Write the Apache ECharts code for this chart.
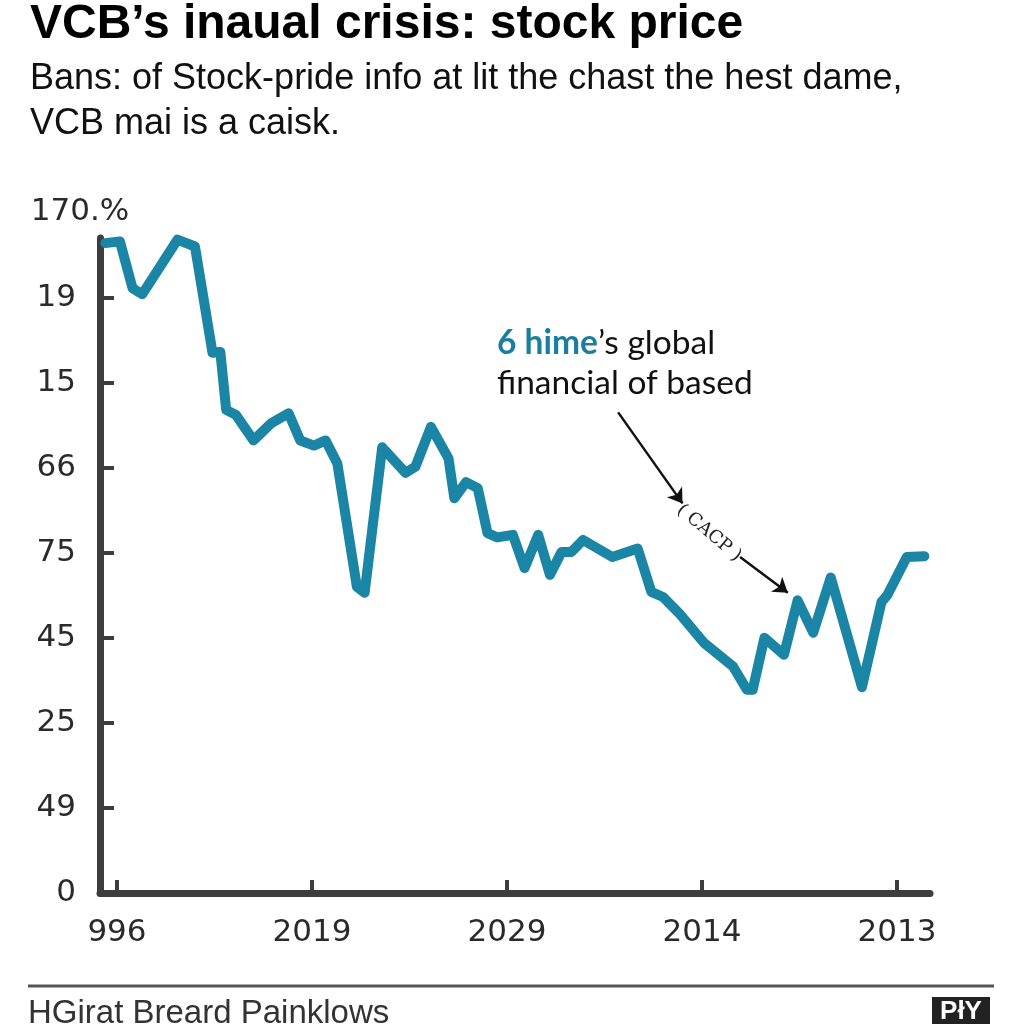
<!DOCTYPE html>
<html>
<head>
<meta charset="utf-8">
<script src="https://cdn.jsdelivr.net/npm/echarts@6/dist/echarts.min.js"></script>
<style>
  html, body { margin: 0; padding: 0; background: #ffffff; }
  #chart { width: 1024px; height: 1024px; }
</style>
</head>
<body>
<div id="chart"></div>
<script>
// ---- data ----
const titleText = "VCB’s inaual crisis: stock price";
const subtitleLines = ["Bans: of Stock-pride info at lit the chast the hest dame,", "VCB mai is a caisk."];
const footerText = "HGirat Breard Painklows";
const logoText = "PłY";

const xTickPos = [0, 10, 20, 30, 40];
const xTickLabels = ["996", "2019", "2029", "2014", "2013"];
const yTickPos = [0, 1, 2, 3, 4, 5, 6, 7];
const yTickLabels = ["0", "49", "25", "45", "75", "66", "15", "19"];
const yAxisTopLabel = "170.%";

const xPos = [-0.6, 0.15, 0.8, 1.3, 3.1, 4.0, 4.9, 5.3, 5.6, 6.1, 7.0, 7.9, 8.8, 9.4, 10.1, 10.7, 11.3, 12.3, 12.7, 13.6, 14.8, 15.3, 16.1, 17.0, 17.3, 17.9, 18.5, 19.0, 19.5, 20.3, 20.9, 21.6, 22.2, 22.8, 23.3, 23.9, 25.4, 26.7, 27.4, 28.0, 28.9, 30.1, 31.6, 32.3, 32.6, 33.2, 34.2, 34.9, 35.7, 36.6, 38.2, 39.2, 39.5, 40.5, 41.4];
const price = [7.64, 7.66, 7.11, 7.04, 7.68, 7.6, 6.35, 6.36, 5.68, 5.62, 5.32, 5.52, 5.64, 5.32, 5.26, 5.32, 5.05, 3.6, 3.53, 5.24, 4.94, 5.01, 5.48, 5.11, 4.64, 4.83, 4.76, 4.23, 4.18, 4.21, 3.82, 4.21, 3.74, 4.01, 4.01, 4.15, 3.95, 4.05, 3.54, 3.48, 3.27, 2.94, 2.66, 2.39, 2.39, 3.0, 2.8, 3.44, 3.06, 3.71, 2.42, 3.42, 3.5, 3.95, 3.96];

const annoBold = "6 hime";
const annoLine1Rest = "’s global";
const annoLine2 = "financial of based";
const annoTag = "( CACP )";
// arrows in data coordinates [x, y]
const arrow1 = [[25.7, 5.65], [29.0, 4.58]];
const arrow2 = [[31.95, 3.95], [34.4, 3.53]];

// ---- chart ----
const seriesData = xPos.map((x, i) => [x, price[i]]);
const axisColor = '#3d3d3d';
const textColor = '#2a2a2a';
const lineColor = '#1a85a4';

const chart = echarts.init(document.getElementById('chart'), null, { renderer: 'canvas' });
chart.setOption({
  animation: false,
  backgroundColor: '#ffffff',
  title: [
    {
      text: titleText, left: 25, top: -4, padding: 5,
      textStyle: { fontFamily: 'Liberation Sans', fontSize: 48, fontWeight: 'bold', color: '#000000' }
    },
    {
      text: subtitleLines.join('\n'), left: 25, top: 52, padding: 5,
      textStyle: { fontFamily: 'Liberation Sans', fontSize: 36, fontWeight: 'normal', color: '#111111', lineHeight: 45 }
    },
    {
      text: footerText, left: 23, top: 992, padding: 5,
      textStyle: { fontFamily: 'Liberation Sans', fontSize: 33, fontWeight: 'normal', color: '#333333', lineHeight: 33 }
    }
  ],
  grid: { left: 100, right: 94, top: 238, bottom: 131, containLabel: false },
  xAxis: {
    type: 'value',
    min: -0.87,
    max: 41.69,
    axisLine: { show: true, onZero: false, lineStyle: { color: axisColor, width: 7, cap: 'round' } },
    axisTick: { show: true, inside: true, length: 13, customValues: xTickPos, lineStyle: { color: axisColor, width: 4 } },
    axisLabel: {
      customValues: xTickPos,
      formatter: (v) => { const i = xTickPos.indexOf(v); return i >= 0 ? xTickLabels[i] : ''; },
      fontFamily: 'DejaVu Sans', fontSize: 31, color: textColor, margin: 24
    },
    splitLine: { show: false }
  },
  yAxis: {
    type: 'value',
    min: 0,
    max: 7.7,
    name: yAxisTopLabel,
    nameLocation: 'end',
    nameGap: 26,
    nameTextStyle: { fontFamily: 'DejaVu Sans', fontSize: 31, color: textColor, align: 'center', verticalAlign: 'middle', padding: [0, 40, 0, 0] },
    axisLine: { show: true, onZero: false, lineStyle: { color: axisColor, width: 7, cap: 'round' } },
    axisTick: { show: true, inside: true, length: 14, customValues: yTickPos.slice(1), lineStyle: { color: axisColor, width: 4 } },
    axisLabel: {
      customValues: yTickPos,
      formatter: (v) => { const i = yTickPos.indexOf(v); return i >= 0 ? yTickLabels[i] : ''; },
      fontFamily: 'DejaVu Sans', fontSize: 31, color: textColor, margin: 24
    },
    splitLine: { show: false }
  },
  series: [
    {
      type: 'line',
      data: seriesData,
      symbol: 'none',
      clip: false,
      lineStyle: { color: lineColor, width: 10, join: 'round', cap: 'round' },
      markLine: {
        silent: true,
        symbol: ['none', 'arrow'],
        symbolSize: 14,
        label: { show: false },
        itemStyle: { color: '#111111' },
        lineStyle: { color: '#111111', width: 2.5, type: 'solid' },
        data: [
          [{ coord: arrow1[0] }, { coord: arrow1[1] }],
          [{ coord: arrow2[0] }, { coord: arrow2[1] }]
        ]
      }
    }
  ],
  graphic: [
    {
      type: 'text', left: 497, top: 326,
      style: {
        text: '{b|' + annoBold + '}{r|' + annoLine1Rest + '}\n{r|' + annoLine2 + '}',
        rich: {
          b: { fontFamily: 'Lato', fontWeight: 'bold', fontSize: 33.5, fill: '#1a7f9f', lineHeight: 40 },
          r: { fontFamily: 'Lato', fontWeight: 'normal', fontSize: 33.5, fill: '#111111', lineHeight: 40 }
        }
      }
    },
    {
      type: 'text', x: 709, y: 533, rotation: -0.7,
      style: { text: annoTag, fontFamily: 'DejaVu Serif', fontSize: 18, fill: '#222222', align: 'center', verticalAlign: 'middle' }
    },
    {
      type: 'line', shape: { x1: 28, y1: 986, x2: 994, y2: 986 },
      style: { stroke: '#555555', lineWidth: 3 }
    },
    {
      type: 'rect', shape: { x: 932, y: 997, width: 58, height: 30 },
      style: { fill: '#222222' }
    },
    {
      type: 'text', x: 961, y: 1012,
      style: { text: logoText, fontFamily: 'Liberation Sans', fontWeight: 'bold', fontSize: 26, fill: '#ffffff', align: 'center', verticalAlign: 'middle' }
    }
  ]
});
</script>
</body>
</html>
